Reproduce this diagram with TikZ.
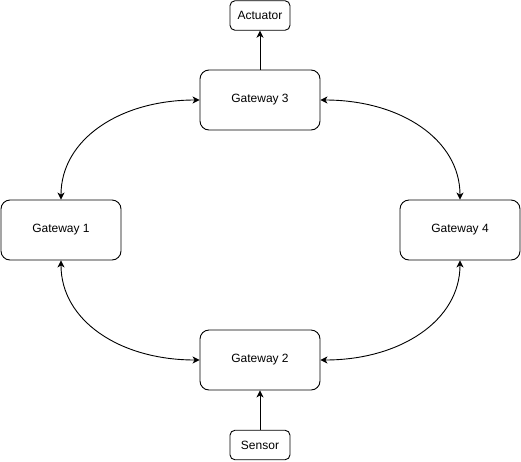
\documentclass[tikz,border=0pt]{standalone}
\usepackage{fontspec}
\setmainfont{Liberation Sans}
\usetikzlibrary{arrows.meta}
\begin{document}
\begin{tikzpicture}[x=1pt,y=-1pt,
  box/.style={draw,line width=0.9pt,rounded corners=9pt,minimum width=120pt,minimum height=60pt,inner sep=0pt,font=\fontsize{12}{14}\selectfont},
  smallbox/.style={draw,line width=0.9pt,rounded corners=5pt,minimum width=60pt,minimum height=29.5pt,inner sep=0pt,font=\fontsize{12}{14}\selectfont},
  link/.style={line width=0.9pt,-{Stealth[length=7pt,width=7pt,inset=2pt]}},
  biline/.style={line width=0.9pt,{Stealth[length=7pt,width=7pt,inset=2pt]}-{Stealth[length=7pt,width=7pt,inset=2pt]}}]
\useasboundingbox (0,0) rectangle (521,461);
\node[smallbox] (act) at (260,15.5) {Actuator};
\node[box] (g3) at (260,100) {Gateway 3};
\node[box] (g1) at (61,230) {Gateway 1};
\node[box] (g4) at (460,230) {Gateway 4};
\node[box] (g2) at (260,360) {Gateway 2};
\node[smallbox] (sen) at (260,445) {Sensor};
\draw[link] (g3.north) -- (act.south);
\draw[link] (sen.north) -- (g2.south);
\draw[biline] (g1.north) .. controls +(0,-60) and +(-80,0) .. (g3.west);
\draw[biline] (g3.east) .. controls +(80,0) and +(0,-60) .. (g4.north);
\draw[biline] (g1.south) .. controls +(0,60) and +(-80,0) .. (g2.west);
\draw[biline] (g4.south) .. controls +(0,60) and +(80,0) .. (g2.east);
\end{tikzpicture}
\end{document}
